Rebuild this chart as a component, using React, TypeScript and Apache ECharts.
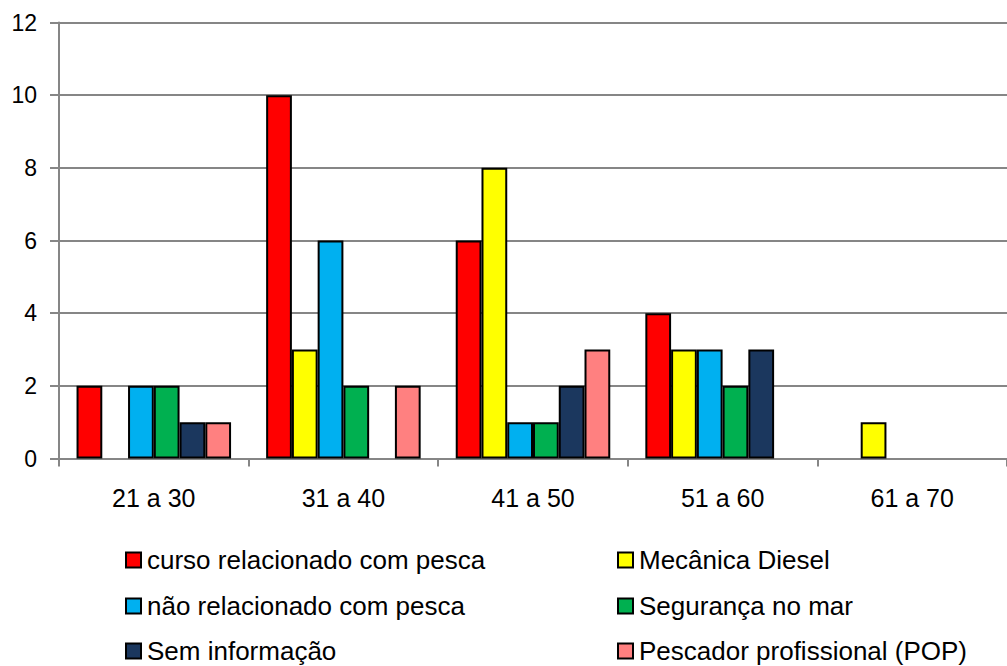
import React, { useEffect, useRef } from "react";
import * as echarts from "echarts";

const categories = ["21 a 30", "31 a 40", "41 a 50", "51 a 60", "61 a 70"];
const seriesNames = [
  "curso relacionado com pesca",
  "Mecânica Diesel",
  "não relacionado com pesca",
  "Segurança no mar",
  "Sem informação",
  "Pescador profissional (POP)",
];
const cursoPesca = [2, 10, 6, 4, 0];
const mecanicaDiesel = [0, 3, 8, 3, 1];
const naoRelacionado = [2, 6, 1, 3, 0];
const segurancaMar = [2, 2, 1, 2, 0];
const semInformacao = [1, 0, 2, 3, 0];
const pescadorPOP = [1, 2, 3, 0, 0];
const seriesValues = [cursoPesca, mecanicaDiesel, naoRelacionado, segurancaMar, semInformacao, pescadorPOP];
const colors = ["#FF0000", "#FFFF00", "#00B0F0", "#00B050", "#1B375E", "#FF8080"];

const legendPos = [
  { left: 125, top: 545 },
  { left: 617, top: 545 },
  { left: 125, top: 591 },
  { left: 617, top: 591 },
  { left: 125, top: 636 },
  { left: 617, top: 636 },
];

export default function App() {
  const ref = useRef<HTMLDivElement>(null);
  useEffect(() => {
    if (!ref.current) return;
    const chart = echarts.init(ref.current, null, { renderer: "svg" });
    const font = "'Liberation Sans', Arial, sans-serif";
    chart.setOption({
      animation: false,
      backgroundColor: "#ffffff",
      grid: { left: 59, top: 22.5, width: 957, height: 436, containLabel: false },
      xAxis: {
        type: "category",
        data: categories,
        boundaryGap: true,
        axisLine: { lineStyle: { color: "#868686", width: 2 } },
        axisTick: { show: true, length: 8, interval: 0, lineStyle: { color: "#868686", width: 2 } },
        axisLabel: { color: "#000", fontSize: 25, fontFamily: font, margin: 27, interval: 0 },
        splitLine: { show: false },
      },
      yAxis: {
        type: "value",
        min: 0,
        max: 12,
        interval: 2,
        axisLine: { show: true, lineStyle: { color: "#868686", width: 2 } },
        axisTick: { show: true, length: 9, lineStyle: { color: "#868686", width: 2 } },
        axisLabel: { color: "#000", fontSize: 23, fontFamily: font, margin: 22 },
        splitLine: { show: true, lineStyle: { color: "#868686", width: 2 } },
      },
      legend: seriesNames.map((n, i) => ({
        data: [n],
        left: legendPos[i].left,
        top: legendPos[i].top,
        itemWidth: 15,
        itemHeight: 15,
        itemGap: 9,
        padding: 0,
        selectedMode: false,
        icon: "rect",
        textStyle: { fontSize: 26, fontFamily: font, color: "#000", lineHeight: 30, padding: [0, 0, 0, 1] },
        itemStyle: { borderColor: "#000", borderWidth: 2 },
      })),
      series: seriesNames.map((n, i) => ({
        name: n,
        type: "bar",
        data: seriesValues[i].map((v) => (v === 0 ? null : v)),
        barGap: "0%",
        barCategoryGap: "18.5%",
        itemStyle: { color: colors[i], borderColor: "#000", borderWidth: 2 },
      })),
    });
    return () => chart.dispose();
  }, []);
  return (
    <div
      ref={ref}
      style={{ position: "fixed", left: 0, top: 0, width: 1007, height: 666 }}
    />
  );
}
